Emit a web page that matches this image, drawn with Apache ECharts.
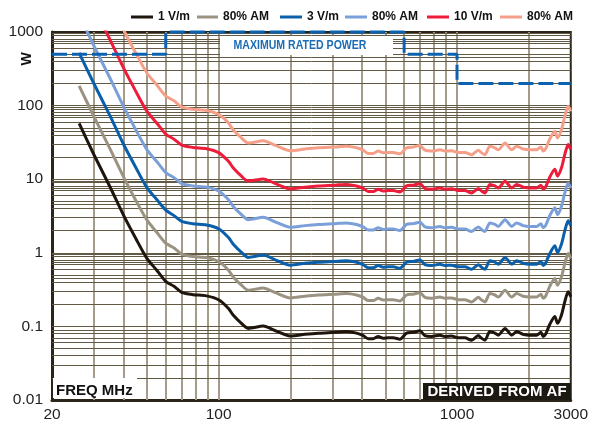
<!DOCTYPE html>
<html>
<head>
<meta charset="utf-8">
<script src="https://cdn.jsdelivr.net/npm/echarts@6/dist/echarts.min.js"></script>
<style>
  html, body { margin: 0; padding: 0; background: #fff; }
  #chart { width: 591px; height: 426px; }
</style>
</head>
<body>
<div id="chart"></div>
<script>
// frequency points (MHz) shared by all curves
var freqMHz = [26, 30, 35, 40, 45, 50, 55, 60, 65, 70,
  78, 89, 100, 110, 115, 124, 133, 154, 172, 200,
  230, 262, 307, 344, 379, 404, 424, 445, 467, 490,
  514, 540, 576, 614, 655, 699, 733, 782, 848, 890,
  949, 1010, 1079, 1151, 1228, 1268, 1309, 1374, 1443, 1490,
  1590, 1696, 1780, 1895, 2020, 2156, 2248, 2297, 2351, 2451,
  2573, 2640, 2743, 2833, 2925, 3000]

// watts needed
var w1 = [57.5, 21.5, 7.9, 3.2, 1.55, 0.84, 0.58, 0.41, 0.35, 0.29,
  0.27, 0.26, 0.23, 0.175, 0.143, 0.112, 0.094, 0.101, 0.088, 0.074,
  0.078, 0.081, 0.083, 0.085, 0.081, 0.075, 0.068, 0.068, 0.073, 0.069,
  0.070, 0.070, 0.067, 0.081, 0.083, 0.087, 0.075, 0.073, 0.076, 0.073,
  0.074, 0.070, 0.070, 0.065, 0.075, 0.069, 0.065, 0.085, 0.081, 0.076,
  0.094, 0.076, 0.085, 0.078, 0.076, 0.076, 0.083, 0.073, 0.078, 0.107,
  0.136, 0.110, 0.143, 0.217, 0.296, 0.253]
var w1am = [185, 71, 26, 10.6, 5.1, 2.8, 1.9, 1.35, 1.16, 0.96,
  0.89, 0.86, 0.76, 0.58, 0.47, 0.37, 0.31, 0.333, 0.29, 0.244,
  0.257, 0.267, 0.274, 0.28, 0.267, 0.248, 0.224, 0.224, 0.241, 0.228,
  0.231, 0.231, 0.221, 0.267, 0.274, 0.287, 0.248, 0.241, 0.251, 0.241,
  0.244, 0.231, 0.231, 0.215, 0.248, 0.228, 0.215, 0.28, 0.267, 0.251,
  0.31, 0.251, 0.28, 0.257, 0.251, 0.251, 0.274, 0.241, 0.257, 0.353,
  0.449, 0.363, 0.472, 0.716, 0.977, 0.835]
var w3 = [520, 198, 73, 29.4, 14.3, 7.7, 5.3, 3.8, 3.2, 2.67,
  2.48, 2.39, 2.12, 1.61, 1.32, 1.03, 0.865, 0.93, 0.81, 0.68,
  0.72, 0.745, 0.764, 0.78, 0.745, 0.69, 0.626, 0.626, 0.672, 0.635,
  0.644, 0.644, 0.616, 0.745, 0.764, 0.80, 0.69, 0.672, 0.70, 0.672,
  0.68, 0.644, 0.644, 0.598, 0.69, 0.635, 0.598, 0.78, 0.745, 0.70,
  0.865, 0.70, 0.78, 0.72, 0.70, 0.70, 0.764, 0.672, 0.72, 0.98,
  1.25, 1.01, 1.32, 2.0, 2.72, 2.33]
var w3am = [1725, 645, 237, 96, 46.5, 25.2, 17.4, 12.3, 10.5, 8.7,
  8.1, 7.8, 6.9, 5.25, 4.3, 3.36, 2.82, 3.03, 2.64, 2.22,
  2.34, 2.43, 2.49, 2.55, 2.43, 2.25, 2.04, 2.04, 2.19, 2.07,
  2.1, 2.1, 2.01, 2.43, 2.49, 2.61, 2.25, 2.19, 2.28, 2.19,
  2.22, 2.1, 2.1, 1.95, 2.25, 2.07, 1.95, 2.55, 2.43, 2.28,
  2.82, 2.28, 2.55, 2.34, 2.28, 2.28, 2.49, 2.19, 2.34, 3.21,
  4.08, 3.3, 4.29, 6.5, 8.9, 7.6]
var w10 = [5750, 2150, 790, 320, 155, 84, 58, 41, 35, 29,
  27, 26, 23, 17.5, 14.3, 11.2, 9.4, 10.1, 8.8, 7.4,
  7.8, 8.1, 8.3, 8.5, 8.1, 7.5, 6.8, 6.8, 7.3, 6.9,
  7.0, 7.0, 6.7, 8.1, 8.3, 8.7, 7.5, 7.3, 7.6, 7.3,
  7.4, 7.0, 7.0, 6.5, 7.5, 6.9, 6.5, 8.5, 8.1, 7.6,
  9.4, 7.6, 8.5, 7.8, 7.6, 7.6, 8.3, 7.3, 7.8, 10.7,
  13.6, 11.0, 14.3, 21.7, 29.6, 25.3]
var w10am = [19000, 7100, 2600, 1056, 512, 277, 191, 135, 116, 96,
  89, 86, 76, 58, 47, 37, 31, 33.3, 29, 24.4,
  25.7, 26.7, 27.4, 28, 26.7, 24.8, 22.4, 22.4, 24.1, 22.8,
  23.1, 23.1, 22.1, 26.7, 27.4, 28.7, 24.8, 24.1, 25.1, 24.1,
  24.4, 23.1, 23.1, 21.5, 24.8, 22.8, 21.5, 28, 26.7, 25.1,
  31, 25.1, 28, 25.7, 25.1, 25.1, 27.4, 24.1, 25.7, 35.3,
  44.9, 36.3, 47.2, 71.6, 97.7, 83.5]

// maximum rated power step line
var maxFreq = [20, 60, 60, 600, 600, 1000, 1000, 3000]
var maxPower = [500, 500, 1000, 1000, 500, 500, 200, 200]

// graph paper lines
var gridFreqs = [30, 40, 50, 60, 70, 80, 90, 100, 200, 300, 400, 500, 600, 700, 800, 900, 1000, 2000]
var gridDecades = [0.01, 0.1, 1, 10, 100]
var gridSteps = [1, 2, 3, 4, 4.5, 5, 6, 7, 7.5, 8, 9, 9.5]

var names = ['1 V/m', '1 V/m 80% AM', '3 V/m', '3 V/m 80% AM', '10 V/m', '10 V/m 80% AM']
var colors = ['#1e150c', '#9b9382', '#0a5fab', '#7b9fd8', '#ec1c3a', '#f59f88']
var values = [w1, w1am, w3, w3am, w10, w10am]
var legendLeft = [131, 197, 280, 345, 427, 500]

var font = 'Arial, "Liberation Sans", sans-serif'

function zip(xs, ys) {
  return xs.map(function (x, i) { return [x, ys[i]] })
}

var hLines = []
gridDecades.forEach(function (d) {
  gridSteps.forEach(function (s) {
    if (d === 0.01 && s === 1) return
    hLines.push({ yAxis: +(d * s).toPrecision(6) })
  })
})

var series = [{
  name: 'grid',
  type: 'line',
  data: [],
  z: 1,
  silent: true,
  markLine: {
    silent: true,
    animation: false,
    z: 1,
    symbol: ['none', 'none'],
    label: { show: false },
    data: gridFreqs.map(function (f) {
      return { xAxis: f, lineStyle: { color: '#a39c8b', width: 2, type: 'solid' } }
    }).concat(hLines.map(function (h) {
      h.lineStyle = { color: '#625a45', width: 1, type: 'solid' }
      return h
    }))
  }
}]

names.forEach(function (n, i) {
  series.push({
    name: n,
    type: 'line',
    data: zip(freqMHz, values[i]),
    showSymbol: false,
    smooth: 0.25,
    z: 3,
    lineStyle: { color: colors[i], width: 3 },
    itemStyle: { color: colors[i] }
  })
})

series.push({
  name: 'max',
  type: 'line',
  data: zip(maxFreq, maxPower),
  showSymbol: false,
  clip: false,
  z: 4,
  lineStyle: { color: '#0b62b0', width: 3, type: [15, 5] }
})

var legends = names.map(function (n, i) {
  return {
    data: [n],
    left: legendLeft[i],
    top: 11,
    padding: 0,
    icon: 'rect',
    itemWidth: i === 1 ? 21 : 22,
    itemHeight: 3,
    selectedMode: false,
    formatter: function (name) { return name.indexOf('80%') >= 0 ? '80% AM' : name },
    textStyle: { fontSize: 12, fontWeight: 'bold', color: '#111', fontFamily: font }
  }
})

var chart = echarts.init(document.getElementById('chart'), null, { renderer: 'canvas' })
chart.setOption({
  animation: false,
  backgroundColor: '#fff',
  legend: legends,
  grid: {
    left: 52, right: 20, top: 32, bottom: 26,
    show: true, borderColor: '#2b2419', borderWidth: 2, backgroundColor: 'transparent'
  },
  xAxis: {
    type: 'log',
    logBase: 10,
    min: 20,
    max: 3000,
    axisLine: { lineStyle: { color: '#2b2419', width: 3 } },
    axisTick: { show: false },
    splitLine: { show: false },
    axisLabel: {
      margin: 7, fontSize: 15.5, color: '#222', fontFamily: font,
      showMinLabel: true, showMaxLabel: true,
      formatter: function (v) { return String(+v.toPrecision(6)) }
    }
  },
  yAxis: {
    type: 'log',
    logBase: 10,
    min: 0.01,
    max: 1000,
    axisLine: { lineStyle: { color: '#2b2419', width: 3 } },
    axisTick: { show: false },
    splitLine: { show: false },
    axisLabel: {
      margin: 9, fontSize: 15.5, color: '#222', fontFamily: font,
      showMinLabel: true, showMaxLabel: true,
      formatter: function (v) { return String(+v.toPrecision(6)) }
    }
  },
  graphic: [
    {
      type: 'text', x: 27, y: 59, rotation: Math.PI / 2, z: 100,
      style: { text: 'W', font: 'bold 14px ' + font, fill: '#111', align: 'center', verticalAlign: 'middle' }
    },
    {
      type: 'rect', z: 100, shape: { x: 220, y: 36, width: 173, height: 19 },
      style: { fill: '#fff' }
    },
    {
      type: 'text', x: 300, y: 46, z: 101, scaleX: 0.88,
      style: { text: 'MAXIMUM RATED POWER', font: 'bold 12px ' + font, fill: '#1b6bb5', align: 'center', verticalAlign: 'middle' }
    },
    {
      type: 'rect', z: 100, shape: { x: 53, y: 378, width: 84, height: 20 },
      style: { fill: '#fff' }
    },
    {
      type: 'text', x: 56, y: 391, z: 101,
      style: { text: 'FREQ MHz', font: 'bold 15px ' + font, fill: '#111', align: 'left', verticalAlign: 'middle' }
    },
    {
      type: 'rect', z: 100, shape: { x: 423, y: 383, width: 148, height: 17 },
      style: { fill: '#1c1812' }
    },
    {
      type: 'text', x: 497, y: 392, z: 101,
      style: { text: 'DERIVED FROM AF', font: 'bold 15px ' + font, fill: '#fff', align: 'center', verticalAlign: 'middle' }
    }
  ],
  series: series
})
</script>
</body>
</html>
